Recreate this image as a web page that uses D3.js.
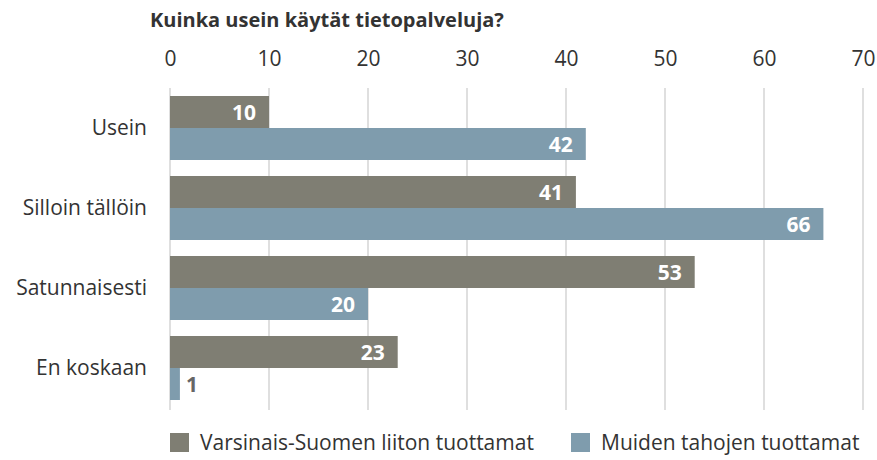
<!DOCTYPE html>
<html>
<head>
<meta charset="utf-8">
<script src="https://cdn.jsdelivr.net/npm/d3@7"></script>
<style>
  body { margin: 0; background: #fff; }
  text { font-family: "Open Sans", "Noto Sans", sans-serif; }
</style>
</head>
<body>
<div id="chart"></div>
<script>
// data
var categories = ["Usein", "Silloin tällöin", "Satunnaisesti", "En koskaan"];
var seriesNames = ["Varsinais-Suomen liiton tuottamat", "Muiden tahojen tuottamat"];
var liitonValues = [10, 41, 53, 23];
var muidenValues = [42, 66, 20, 1];
var tickValues = [0, 10, 20, 30, 40, 50, 60, 70];
var title = "Kuinka usein käytät tietopalveluja?";

var colors = ["#7f7e73", "#7f9cad"];
var textColor = "#333333";

var svgWidth = 877;
var svgHeight = 460;
var margin = { top: 88, right: 14, bottom: 52, left: 170 };
var width = svgWidth - margin.left - margin.right;
var height = svgHeight - margin.top - margin.bottom;

var svg = d3.select("#chart")
    .append("svg")
    .attr("width", svgWidth)
    .attr("height", svgHeight);

var chartGroup = svg.append("g")
    .attr("transform", `translate(${margin.left}, ${margin.top})`);

// scales
var xScale = d3.scaleLinear()
    .domain([0, 70])
    .range([0, width]);

var yScale = d3.scaleBand()
    .domain(categories)
    .range([0, height])
    .paddingInner(0.2)
    .paddingOuter(0.1);

var subScale = d3.scaleBand()
    .domain([0, 1])
    .range([0, yScale.bandwidth()]);

// gridlines
chartGroup.append("g")
    .selectAll("line")
    .data(tickValues)
    .enter()
    .append("line")
    .attr("x1", d => xScale(d))
    .attr("x2", d => xScale(d))
    .attr("y1", 0)
    .attr("y2", height + 2)
    .attr("stroke", "#d4d4d4")
    .attr("stroke-width", 1.5);

// top axis
var topAxis = d3.axisTop(xScale).tickValues(tickValues).tickSize(0).tickPadding(0);
var axisG = chartGroup.append("g")
    .attr("transform", "translate(0, -22)")
    .call(topAxis);
axisG.select(".domain").remove();
axisG.selectAll("text")
    .attr("font-family", "\"Open Sans\", sans-serif")
    .attr("font-size", 21)
    .attr("fill", textColor);

// category labels
chartGroup.append("g")
    .selectAll("text")
    .data(categories)
    .enter()
    .append("text")
    .attr("x", -23)
    .attr("y", d => yScale(d) + yScale.bandwidth() / 2)
    .attr("dy", "0.35em")
    .attr("text-anchor", "end")
    .attr("font-size", 21)
    .attr("fill", textColor)
    .text(d => d);

// bars
var series = [liitonValues, muidenValues];
series.forEach(function(values, s) {
    var g = chartGroup.append("g");
    g.selectAll("rect")
        .data(values)
        .enter()
        .append("rect")
        .attr("x", xScale(0))
        .attr("y", (d, i) => yScale(categories[i]) + subScale(s))
        .attr("width", d => xScale(d) - xScale(0))
        .attr("height", subScale.bandwidth())
        .attr("fill", colors[s]);

    g.selectAll("text")
        .data(values)
        .enter()
        .append("text")
        .attr("x", d => d < 5 ? xScale(d) + 6 : xScale(d) - 13)
        .attr("y", (d, i) => yScale(categories[i]) + subScale(s) + subScale.bandwidth() / 2)
        .attr("dy", "0.36em")
        .attr("text-anchor", d => d < 5 ? "start" : "end")
        .attr("font-size", 21)
        .attr("font-weight", "bold")
        .attr("fill", d => d < 5 ? "#666666" : "#ffffff")
        .text(d => d);
});

// title
svg.append("text")
    .attr("x", 150)
    .attr("y", 27)
    .attr("font-size", 20)
    .attr("font-weight", "bold")
    .attr("fill", textColor)
    .text(title);

// legend
var legendX = [170, 571];
var legend = svg.append("g")
    .selectAll("g")
    .data(seriesNames)
    .enter()
    .append("g")
    .attr("transform", (d, i) => `translate(${legendX[i]}, 433)`);

legend.append("rect")
    .attr("width", 19)
    .attr("height", 19)
    .attr("fill", (d, i) => colors[i]);

legend.append("text")
    .attr("x", 30)
    .attr("y", 10)
    .attr("dy", "0.35em")
    .attr("font-size", 21)
    .attr("fill", textColor)
    .text(d => d);
</script>
</body>
</html>
